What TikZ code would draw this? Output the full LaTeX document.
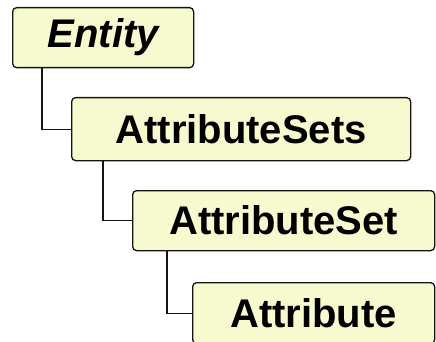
\documentclass[tikz,border=0pt]{standalone}
\usepackage{fontspec}
\setmainfont{Liberation Sans}
\usepackage{tikz}
\usetikzlibrary{positioning}
\usepackage{xcolor}
\definecolor{boxfill}{RGB}{246,250,206}
\definecolor{boxline}{RGB}{20,20,20}

\tikzset{
    treebox/.style={draw=boxline, line width=1.3pt, fill=boxfill, rounded corners=4pt,
        anchor=north west, inner sep=0pt, font=\fontsize{40}{42}\selectfont\bfseries},
    treeline/.style={draw=boxline, line width=1.2pt}
}

\begin{document}
\begin{tikzpicture}[x=1pt, y=-1pt]
\useasboundingbox (0,0) rectangle (436,342);
% boxes
\node[treebox, minimum width=181pt, minimum height=60pt] (entity) at (12,7) {\itshape Entity};
\node[treebox, minimum width=339pt, minimum height=63pt] (sets) at (71,97) {AttributeSets};
\node[treebox, minimum width=302pt, minimum height=60pt] (set) at (132,190) {AttributeSet};
\node[treebox, minimum width=242pt, minimum height=61pt] (attr) at (192,282) {Attribute};
% connectors
\draw[treeline] ([xshift=30pt]entity.south west) |- (sets.west);
\draw[treeline] ([xshift=32pt]sets.south west) |- (set.west);
\draw[treeline] ([xshift=35pt]set.south west) |- (attr.west);
\end{tikzpicture}
\end{document}
